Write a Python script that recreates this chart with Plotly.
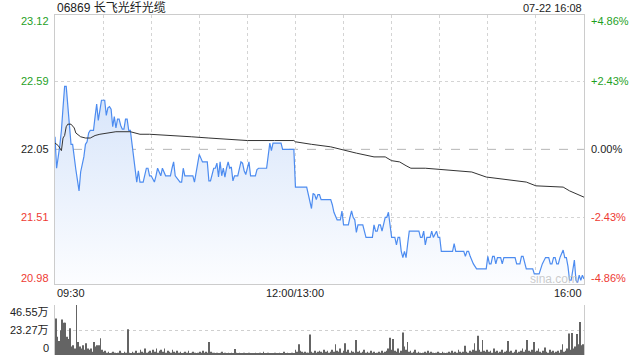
import plotly.graph_objects as go

title_text = "06869 长飞光纤光缆"
stamp_text = "07-22 16:08"
prev_close = 22.05

price_times = [
    "09:30", "09:31", "09:33", "09:34", "09:35", "09:36", "09:37", "09:38", "09:39", "09:40",
    "09:41", "09:42", "09:43", "09:45", "09:46", "09:48", "09:49", "09:50", "09:51", "09:52",
    "09:54", "09:55", "09:56", "09:57", "09:58", "09:59", "10:01", "10:02", "10:03", "10:04",
    "10:05", "10:06", "10:07", "10:08", "10:09", "10:10", "10:11", "10:12", "10:13", "10:14",
    "10:15", "10:16", "10:17", "10:18", "10:19", "10:20", "10:21", "10:22", "10:23", "10:25",
    "10:27", "10:28", "10:29", "10:30", "10:32", "10:33", "10:34", "10:36", "10:37", "10:39",
    "10:42", "10:43", "10:44", "10:45", "10:48", "10:49", "10:50", "10:51", "10:56", "10:57",
    "10:59", "11:00", "11:02", "11:05", "11:06", "11:07", "11:09", "11:10", "11:11", "11:12",
    "11:13", "11:14", "11:15", "11:16", "11:17", "11:18", "11:19", "11:20", "11:21", "11:22",
    "11:24", "11:26", "11:27", "11:28", "11:29", "11:30", "11:31", "11:32", "11:35", "11:36",
    "11:37", "11:42", "11:43", "11:44", "11:45", "11:46", "11:51", "11:52", "11:59",
    "13:00", "13:07", "13:08", "13:10", "13:11", "13:12", "13:13", "13:14", "13:15", "13:16",
    "13:22", "13:23", "13:24", "13:26", "13:28", "13:29", "13:30", "13:33", "13:34", "13:35",
    "13:36", "13:37", "13:38", "13:39", "13:42", "13:43", "13:44", "13:48", "13:49", "13:50",
    "13:51", "13:52", "13:53", "13:54", "13:55", "13:56", "13:57", "13:58", "13:59", "14:00",
    "14:02", "14:03", "14:04", "14:05", "14:06", "14:07", "14:08", "14:09", "14:10", "14:11",
    "14:17", "14:18", "14:19", "14:20", "14:21", "14:22", "14:24", "14:25", "14:26", "14:28",
    "14:29", "14:30", "14:31", "14:38", "14:39", "14:40", "14:45", "14:46", "14:47", "14:48",
    "14:49", "14:51", "14:53", "14:59", "15:00", "15:01", "15:02", "15:03", "15:04", "15:05",
    "15:06", "15:08", "15:09", "15:10", "15:17", "15:18", "15:20", "15:21", "15:22", "15:23",
    "15:24", "15:28", "15:29", "15:32", "15:33", "15:34", "15:36", "15:38", "15:39", "15:40",
    "15:41", "15:42", "15:43", "15:44", "15:45", "15:47", "15:48", "15:49", "15:50", "15:51",
    "15:52", "15:53", "15:54", "15:55", "15:56", "15:57", "15:58", "15:59", "16:00",
]
price_values = [
    22.15, 21.90, 22.08, 22.20, 22.38, 22.55, 22.55, 22.40, 22.26, 22.09,
    22.09, 21.97, 21.89, 21.72, 21.87, 21.99, 22.09, 22.11, 22.18, 22.20,
    22.20, 22.31, 22.41, 22.28, 22.35, 22.44, 22.44, 22.32, 22.38, 22.39,
    22.37, 22.23, 22.31, 22.22, 22.29, 22.29, 22.24, 22.21, 22.21, 22.29,
    22.29, 22.20, 22.20, 22.09, 22.00, 21.91, 21.79, 21.88, 21.79, 21.79,
    21.90, 21.90, 21.84, 21.84, 21.79, 21.84, 21.90, 21.84, 21.90, 21.84,
    21.84, 21.90, 21.95, 21.84, 21.79, 21.79, 21.90, 21.84, 21.84, 21.79,
    21.95, 22.01, 21.95, 21.95, 21.80, 21.80, 21.90, 21.90, 21.94, 21.83,
    21.95, 21.84, 21.90, 21.83, 21.90, 21.95, 21.90, 21.91, 21.80, 21.84,
    21.84, 21.95, 21.94, 21.88, 21.85, 21.90, 21.95, 21.84, 21.84, 21.89,
    21.90, 21.90, 22.02, 22.10, 22.04, 22.10, 22.10, 22.05, 22.05,
    21.75, 21.75, 21.70, 21.58, 21.70, 21.69, 21.65, 21.69, 21.69, 21.65,
    21.65, 21.61, 21.55, 21.49, 21.49, 21.56, 21.45, 21.45, 21.51, 21.56,
    21.51, 21.49, 21.39, 21.45, 21.45, 21.40, 21.35, 21.35, 21.45, 21.40,
    21.40, 21.45, 21.45, 21.40, 21.45, 21.51, 21.51, 21.55, 21.45, 21.35,
    21.35, 21.29, 21.35, 21.35, 21.24, 21.19, 21.24, 21.19, 21.30, 21.40,
    21.40, 21.35, 21.35, 21.40, 21.29, 21.35, 21.35, 21.40, 21.35, 21.40,
    21.35, 21.35, 21.24, 21.24, 21.30, 21.24, 21.24, 21.20, 21.24, 21.24,
    21.20, 21.14, 21.10, 21.10, 21.20, 21.14, 21.14, 21.20, 21.20, 21.14,
    21.19, 21.19, 21.14, 21.19, 21.19, 21.14, 21.14, 21.20, 21.20, 21.14,
    21.10, 21.10, 21.06, 21.06, 21.10, 21.14, 21.19, 21.19, 21.14, 21.14,
    21.19, 21.19, 21.14, 21.14, 21.19, 21.25, 21.19, 21.19, 21.12, 21.01,
    21.01, 21.08, 21.17, 21.01, 20.99, 21.05, 21.01, 21.05, 21.02,
]

avg_times = [
    "09:30", "09:32", "09:34", "09:35", "09:36", "09:37", "09:38", "09:40", "09:42", "09:43",
    "09:46", "09:49", "09:52", "09:55", "09:58", "10:02", "10:08", "10:17", "10:23", "10:29",
    "10:47", "10:55", "11:06", "11:16", "11:30", "11:47", "11:59", "13:00", "13:07", "13:10",
    "13:22", "13:31", "13:38", "13:49", "13:56", "14:00", "14:05", "14:09", "14:12", "14:21",
    "14:30", "14:50", "14:59", "15:24", "15:30", "15:47", "15:51", "15:55", "16:00",
]
avg_values = [
    22.10, 22.08, 22.04, 22.14, 22.16, 22.23, 22.25, 22.25, 22.22, 22.18,
    22.15, 22.14, 22.14, 22.16, 22.17, 22.18, 22.19, 22.19, 22.17, 22.17,
    22.16, 22.15, 22.14, 22.13, 22.12, 22.12, 22.12, 22.11, 22.10, 22.09,
    22.07, 22.04, 22.02, 21.99, 21.99, 21.96, 21.95, 21.92, 21.90, 21.90,
    21.89, 21.87, 21.83, 21.79, 21.76, 21.75, 21.72, 21.70, 21.67,
]

# volume per minute (unit: 万), 09:30-11:59 then 13:00-16:00
volume_wan = [
    34, 17, 13, 23, 33, 30, 30, 17, 15, 25, 8, 9, 6, 46.55, 12, 8, 6, 9, 5, 11, 6, 5, 6, 3, 12, 8, 9, 9, 15.5, 5,
    3, 4, 2, 3, 1.5, 2, 3, 2, 1, 2, 4, 2, 1.5, 3, 2, 24, 2, 1, 3, 2, 4, 1.5, 2, 5, 3, 2, 6, 2, 3, 4,
    2, 5, 3, 6, 2, 4, 5, 3, 6, 2, 4, 3, 2, 5, 3, 2, 4, 2, 3, 1.5, 2, 3, 2, 4, 1.5, 2, 3, 2, 1, 2,
    3, 2, 4, 2, 3, 2, 12, 3, 2, 2, 1.5, 2, 1, 2, 3, 1, 2, 1.5, 2, 1, 2, 1, 5.5, 2, 1, 2, 1.5, 1, 2, 1,
    1, 2, 1, 1.5, 1, 2, 1, 1, 2, 1, 3, 1, 1, 2, 1, 1.5, 1, 2, 1, 1, 2, 1, 1, 3, 1, 2, 1, 1.5, 2, 1,
    5, 3, 10, 4, 3, 2, 3, 2, 2, 19, 3, 2, 4, 2, 3, 4, 3, 2, 5, 3, 4, 2, 3, 5, 3, 10, 4, 3, 6, 2,
    4, 11, 3, 5, 2, 4, 3, 2, 14, 3, 4, 2, 3, 5, 2, 3, 2, 4, 2, 3, 1.5, 2, 3, 2, 4, 2, 3, 4, 6, 16,
    5, 15, 4, 3, 6, 2, 4, 21, 8, 5, 12, 3, 4, 2, 3, 5, 2, 3, 2, 1.5, 2, 3, 2, 4, 2, 3, 2, 1.5, 2, 3,
    2, 1.5, 3, 2, 1, 2, 3, 2, 4, 2, 3, 2, 5, 3, 2, 3, 8.5, 3, 2, 4, 3, 5, 11, 4, 18, 5, 3, 14, 4, 3,
    5, 3, 4, 2, 6, 3, 4, 2, 3, 5, 2, 3, 4, 13, 3, 4, 2, 3, 5, 2, 3, 4, 6, 3, 5, 14, 4, 3, 5, 12,
    3, 4, 6, 3, 2, 4, 7, 3, 2, 5, 3, 4, 2, 3, 4, 2, 5, 10, 3, 4, 6, 20, 5, 20.5, 6, 8, 19.6, 10, 30.7, 9, 10,
]

price_ticks = [23.12, 22.59, 22.05, 21.51, 20.98]
pct_labels = ["+4.86%", "+2.43%", "0.00%", "-2.43%", "-4.86%"]
vol_ticks = [46.55, 23.27, 0]
vol_labels = ["46.55万", "23.27万", "0"]
time_labels = ["09:30", "12:00/13:00", "16:00"]
watermark = "sina.com"

GREEN = "#1f9f1f"
RED = "#ee3a33"
BLACK = "#222222"
FONT = "Liberation Sans, Arial, Noto Sans CJK SC"


def session_index(t):
    h, m = map(int, t.split(":"))
    mins = h * 60 + m
    if mins < 13 * 60:
        return mins - (9 * 60 + 30)
    return 150 + mins - 13 * 60


px = [session_index(t) for t in price_times]
ax = [session_index(t) for t in avg_times]
vx = list(range(len(volume_wan)))
last_idx = session_index("16:00")

fig = go.Figure()
fig.add_trace(go.Scatter(
    x=px, y=price_values, mode="lines",
    line=dict(color="#4d8cf0", width=1.2),
    fill="tozeroy",
    fillgradient=dict(type="vertical", start=price_ticks[-1], stop=22.56,
                      colorscale=[[0, "rgba(252,253,255,1)"], [1, "rgba(214,228,250,1)"]]),
    xaxis="x", yaxis="y", hoverinfo="skip",
))
fig.add_trace(go.Scatter(
    x=ax, y=avg_values, mode="lines",
    line=dict(color="#333333", width=1),
    xaxis="x", yaxis="y", hoverinfo="skip",
))
fig.add_trace(go.Bar(
    x=vx, y=volume_wan, width=0.5,
    marker=dict(color="#646464", line=dict(width=0)),
    xaxis="x2", yaxis="y2", hoverinfo="skip",
))

xdom = [55 / 640, 584 / 640]
fig.update_layout(
    width=640, height=360,
    margin=dict(l=0, r=0, t=0, b=0),
    paper_bgcolor="white", plot_bgcolor="white",
    showlegend=False,
    font=dict(family=FONT, size=11, color=BLACK),
    xaxis=dict(domain=xdom, range=[0, last_idx], dtick=30, tick0=0,
               showgrid=True, gridcolor="#d4d4d4", griddash="dot", gridwidth=1,
               showticklabels=False, zeroline=False,
               showline=True, mirror=True, linecolor="#cccccc", linewidth=1, anchor="y"),
    yaxis=dict(domain=[76 / 360, 345.3 / 360], range=[price_ticks[-1], price_ticks[0]],
               tickvals=[price_ticks[1], price_ticks[3]],
               showgrid=True, gridcolor="#d4d4d4", griddash="dot", gridwidth=1,
               showticklabels=False, zeroline=False,
               showline=True, mirror=True, linecolor="#cccccc", linewidth=1, anchor="x"),
    xaxis2=dict(domain=xdom, range=[-0.5, last_idx + 0.5], showgrid=False,
                showticklabels=False, zeroline=False, showline=False, anchor="y2"),
    yaxis2=dict(domain=[5 / 360, 55 / 360], range=[0, vol_ticks[0]],
                tickvals=[vol_ticks[0], vol_ticks[1]],
                showgrid=True, gridcolor="#cfcfcf", griddash="dot", gridwidth=1,
                showticklabels=False, zeroline=False,
                showline=True, mirror=True, linecolor="#cccccc", linewidth=1, anchor="x2"),
)

fig.add_shape(type="line", xref="x domain", yref="y", x0=0, x1=1,
              y0=prev_close, y1=prev_close,
              line=dict(color="#b5b5b5", width=1, dash="dash"), layer="below")

ann = []
left_colors = [GREEN, GREEN, BLACK, RED, RED]
shifts = [-6, 0, 0, 0, 6]
for v, lab, c, s in zip(price_ticks, pct_labels, left_colors, shifts):
    ann.append(dict(x=51 / 640, xref="paper", y=v, yref="y", text=f"{v:.2f}",
                    xanchor="right", yanchor="middle", yshift=s, showarrow=False,
                    font=dict(color=c, size=11, family=FONT)))
    ann.append(dict(x=589 / 640, xref="paper", y=v, yref="y", text=lab,
                    xanchor="left", yanchor="middle", yshift=s, showarrow=False,
                    font=dict(color=c, size=11, family=FONT)))
vshifts = [-7, 0, 7]
for v, lab, s in zip(vol_ticks, vol_labels, vshifts):
    ann.append(dict(x=51 / 640, xref="paper", y=v, yref="y2", text=lab,
                    xanchor="right", yanchor="middle", yshift=s, showarrow=False,
                    font=dict(color=BLACK, size=11, family=FONT)))
tpos = [(0, "left"), (150, "center"), (last_idx, "right")]
for (xv, anc), lab in zip(tpos, time_labels):
    ann.append(dict(x=xv, xref="x", y=(360 - 293) / 360, yref="paper", text=lab,
                    xanchor=anc, yanchor="middle", showarrow=False,
                    font=dict(color=BLACK, size=11, family=FONT)))
ann.append(dict(x=55 / 640, xref="paper", y=(360 - 7.5) / 360, yref="paper", text=title_text,
                xanchor="left", yanchor="middle", showarrow=False,
                font=dict(color=BLACK, size=12, family=FONT)))
ann.append(dict(x=584 / 640, xref="paper", y=(360 - 7.5) / 360, yref="paper", text=stamp_text,
                xanchor="right", yanchor="middle", showarrow=False,
                font=dict(color=BLACK, size=11, family=FONT)))
ann.append(dict(x=554 / 640, xref="paper", y=(360 - 279) / 360, yref="paper", text=watermark,
                xanchor="center", yanchor="middle", showarrow=False,
                font=dict(color="rgba(190,190,190,0.8)", size=12, family=FONT)))
fig.update_layout(annotations=ann)

fig.write_html("out.html")
